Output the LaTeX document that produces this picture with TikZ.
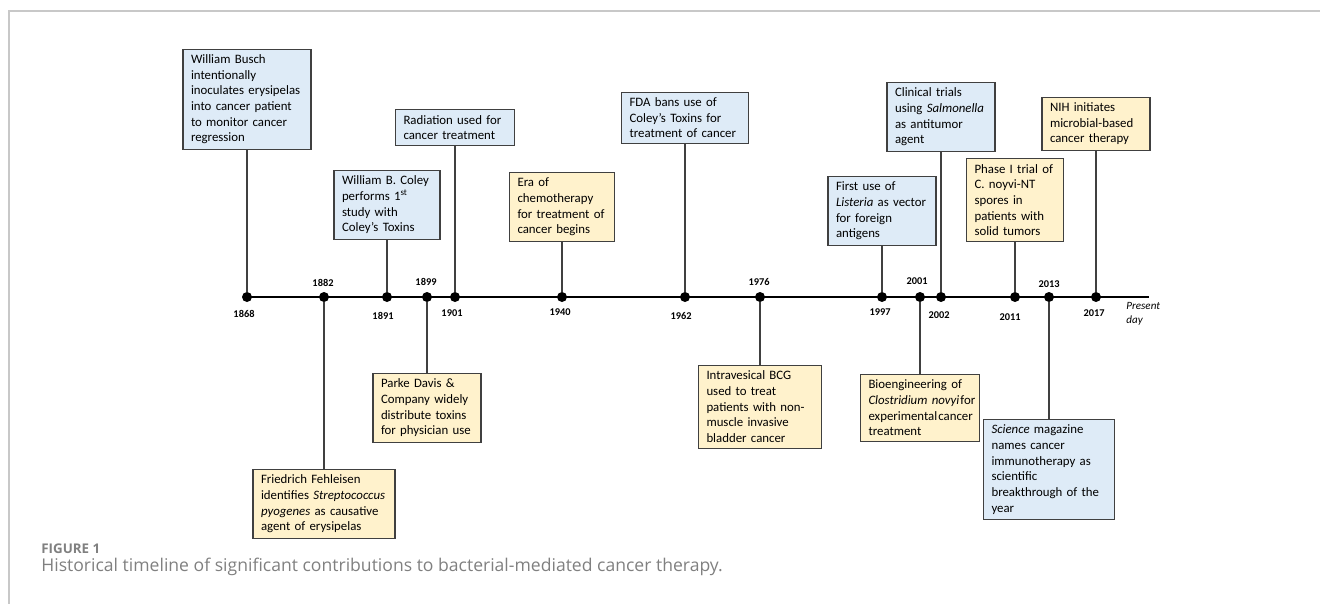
\documentclass[tikz,border=0pt]{standalone}
\usepackage{fontspec}
\setmainfont{Carlito}
\newfontfamily\fuenteLeyenda{Open Sans}
\definecolor{cronoAzul}{HTML}{DEEBF7}
\definecolor{cronoAmarillo}{HTML}{FFF2CC}
\definecolor{cronoBorde}{HTML}{404040}
\definecolor{cronoMarco}{HTML}{C8C8C8}
\definecolor{cronoLeyenda}{HTML}{808080}
\usetikzlibrary{
	positioning
}
\tikzset{
	cajaHito/.style={
		draw=cronoBorde,
		line width=0.6pt,
		align=left,
		inner xsep=1.6mm,
		inner ysep=1.1mm,
		font=\fontsize{7.3}{8.9}\selectfont
	},
	cajaAzul/.style={
		cajaHito,
		fill=cronoAzul
	},
	cajaAmar/.style={
		cajaHito,
		fill=cronoAmarillo
	},
	lineaHito/.style={
		draw=cronoBorde,
		line width=0.6pt
	},
	lineaTiempo/.style={
		draw=black,
		line width=1.1pt
	},
	puntoAnio/.style={
		circle,
		fill=black,
		inner sep=0pt,
		minimum size=2mm
	},
	textoAnio/.style={
		font=\fontsize{5.9}{7}\selectfont\bfseries,
		inner sep=0pt
	},
	textoHoy/.style={
		font=\fontsize{6.3}{7.9}\selectfont\itshape,
		align=left,
		inner sep=0pt
	}
}

\begin{document}
\begin{tikzpicture}[x=0.2mm, y=-0.2mm]
		\useasboundingbox (0,0) rectangle (1320,604);
		\draw[cronoMarco, line width=0.6pt] (1320,11) -- (9,11) -- (9,604);
		\foreach \x/\anio/\xa/\ya in {247/1868/244/314, 324/1882/323/283, 387/1891/383/316, 427/1899/426/282, 455/1901/452/313, 562/1940/560/312, 685/1962/681/316, 760/1976/759/282, 882/1997/880/312, 920/2001/917/281, 941/2002/939/315, 1015/2011/1010/317, 1049/2013/1049/284, 1096/2017/1094/313}{
			\node[puntoAnio] (p\anio) at (\x,297) {};
			\node[textoAnio] (t\anio) at (\xa,\ya) {\anio};
		}
		\coordinate (fin) at (1149,297);
		\draw[lineaTiempo] (p1868.center) -- (fin);
		\node[textoHoy, anchor=west] (hoy) at (1126,314) {Present\\day};
		\node[cajaAzul, text width=22.4mm, anchor=south] (busch) at (247,150) {
			William Busch\\
			intentionally\\
			inoculates erysipelas\\
			into cancer patient\\
			to monitor cancer\\
			regression
		};
		\node[cajaAzul, text width=18mm, anchor=south] (coley) at (387,240) {
			William B. Coley\\
			performs 1\textsuperscript{st}\\
			study with\\
			Coley’s Toxins
		};
		\node[cajaAzul, text width=20.6mm, anchor=south] (radiacion) at (455,146) {
			Radiation used for\\
			cancer treatment
		};
		\node[cajaAmar, text width=17.8mm, anchor=south] (quimio) at (562,242) {
			Era of\\
			chemotherapy\\
			for treatment of\\
			cancer begins
		};
		\node[cajaAzul, text width=22.2mm, anchor=south] (fda) at (685,144) {
			FDA bans use of\\
			Coley’s Toxins for\\
			treatment of cancer
		};
		\node[cajaAzul, text width=18.4mm, anchor=south] (listeria) at (882,246) {
			First use of\\
			\textit{Listeria} as vector\\
			for foreign\\
			antigens
		};
		\node[cajaAzul, text width=18.4mm, anchor=south] (salmonella) at (941,152) {
			Clinical trials\\
			using \textit{Salmonella}\\
			as antitumor\\
			agent
		};
		\node[cajaAmar, text width=16.2mm, anchor=south] (faseUno) at (1015,242) {
			Phase I trial of\\
			C. noyvi-NT\\
			spores in\\
			patients with\\
			solid tumors
		};
		\node[cajaAmar, text width=18.4mm, anchor=south] (nih) at (1096,151) {
			NIH initiates\\
			microbial-based\\
			cancer therapy
		};
		\node[cajaAmar, text width=25.2mm, anchor=north] (fehleisen) at (324,469) {
			Friedrich Fehleisen\\
			identifies \textit{Streptococcus}\\
			\textit{pyogenes} as causative\\
			agent of erysipelas
		};
		\node[cajaAmar, text width=18.4mm, anchor=north] (parke) at (427,373) {
			Parke Davis \&\\
			Company widely\\
			distribute toxins\\
			for physician use
		};
		\node[cajaAmar, text width=21.4mm, anchor=north] (bcg) at (760,365) {
			Intravesical BCG\\
			used to treat\\
			patients with non-\\
			muscle invasive\\
			bladder cancer
		};
		\node[cajaAmar, text width=20.6mm, anchor=north] (bioing) at (920,374) {
			\mbox{Bioengineering of}\\
			\mbox{\textit{Clostridium novyi}\hspace{0.6pt}for}\\
			\mbox{experimental\hspace{0.6pt}cancer}\\
			treatment
		};
		\node[cajaAzul, text width=23mm, anchor=north] (science) at (1049,419) {
			\textit{Science} magazine\\
			names cancer\\
			immunotherapy as\\
			scientific\\
			breakthrough of the\\
			year
		};
		\draw[lineaHito] (busch.south) -- (p1868);
		\draw[lineaHito] (coley.south) -- (p1891);
		\draw[lineaHito] (radiacion.south) -- (p1901);
		\draw[lineaHito] (quimio.south) -- (p1940);
		\draw[lineaHito] (fda.south) -- (p1962);
		\draw[lineaHito] (listeria.south) -- (p1997);
		\draw[lineaHito] (salmonella.south) -- (p2002);
		\draw[lineaHito] (faseUno.south) -- (p2011);
		\draw[lineaHito] (nih.south) -- (p2017);
		\draw[lineaHito] (fehleisen.north) -- (p1882);
		\draw[lineaHito] (parke.north) -- (p1899);
		\draw[lineaHito] (bcg.north) -- (p1976);
		\draw[lineaHito] (bioing.north) -- (p2001);
		\draw[lineaHito] (science.north) -- (p2013);
		\node[anchor=west, inner sep=0pt, text=cronoLeyenda, font=\fuenteLeyenda\fontsize{7.6}{9}\selectfont\bfseries] (figura) at (41,549) {FIGURE 1};
		\node[anchor=west, inner sep=0pt, text=cronoLeyenda, font=\fuenteLeyenda\fontsize{10}{12}\selectfont] (leyenda) at (41,567) {Historical timeline of significant contributions to bacterial-mediated cancer therapy.};
	\end{tikzpicture}
\end{document}
